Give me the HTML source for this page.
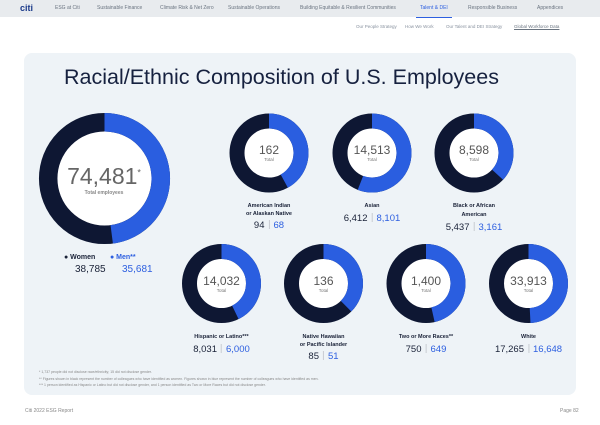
<!DOCTYPE html>
<html><head><style>
body{margin:0;width:600px;height:425px;background:#fff;font-family:"Liberation Sans",sans-serif;position:relative;overflow:hidden}
.a{position:absolute;white-space:nowrap}
.nav{position:absolute;left:0;top:0;width:600px;height:17px;background:#e8ebee}
.nav span{position:absolute;top:5px;font-size:5px;color:#6a7480}
.c{text-align:center;transform:translateX(-50%)}
.lab{font-size:5.5px;font-weight:bold;color:#1a2238;line-height:8px}
.num{font-size:9.5px;color:#1a2238}
.num b{font-weight:normal;color:#2d5fe0}
.sep{display:inline-block;width:1px;height:9px;background:#c8ccd2;margin:0 4px;vertical-align:-1px}
.t1{font-size:12px;color:#555}
.t2{font-size:4.5px;color:#777}
</style></head><body>
<div class="nav">
<span style="left:20px;top:3px;font-size:9px;font-weight:bold;color:#1a3a8a">citi</span>
<span style="left:55px">ESG at Citi</span><span style="left:97px">Sustainable Finance</span>
<span style="left:160px">Climate Risk &amp; Net Zero</span><span style="left:228px">Sustainable Operations</span>
<span style="left:300px">Building Equitable &amp; Resilient Communities</span>
<span style="left:420px;color:#2d5fe0">Talent &amp; DEI</span>
<span style="left:468px">Responsible Business</span><span style="left:537px">Appendices</span>
</div>
<div style="position:absolute;left:416px;top:17px;width:36px;height:1px;background:#2d5fe0"></div>
<div class="a" style="left:356px;top:24px;font-size:4.5px;color:#8a93a0">Our People Strategy</div>
<div class="a" style="left:405px;top:24px;font-size:4.5px;color:#8a93a0">How We Work</div>
<div class="a" style="left:446px;top:24px;font-size:4.5px;color:#8a93a0">Our Talent and DEI Strategy</div>
<div class="a" style="left:514px;top:24px;font-size:4.5px;color:#6a7480;text-decoration:underline">Global Workforce Data</div>
<div style="position:absolute;left:24px;top:53px;width:552px;height:342px;background:#eef3f7;border-radius:8px"></div>
<div class="a" style="left:64px;top:65px;font-size:21.5px;color:#16213f">Racial/Ethnic Composition of U.S. Employees</div>
<svg style="position:absolute;left:0;top:0" width="600" height="425">
<circle cx="104.5" cy="178.5" r="48" fill="#fff"/>
<circle cx="104.5" cy="178.5" r="56.3" fill="none" stroke="#0e1733" stroke-width="18.5"/>
<circle cx="104.5" cy="178.5" r="56.3" fill="none" stroke="#2a5ee0" stroke-width="18.5" stroke-dasharray="169.4 400" transform="rotate(-90 104.5 178.5)"/>
<g id="s"></g>
</svg>
<script>
var d=[[269,153,.42],[372,153,.558],[474,153,.368],[221.5,283.5,.428],[323.5,283.5,.375],[426,283.5,.464],[528.5,283.5,.491]];
var g=document.getElementById('s'),h='';
d.forEach(function(p){var r=32,C=2*Math.PI*r;
h+='<circle cx="'+p[0]+'" cy="'+p[1]+'" r="25" fill="#fff"/>';
h+='<circle cx="'+p[0]+'" cy="'+p[1]+'" r="'+r+'" fill="none" stroke="#0e1733" stroke-width="15"/>';
h+='<circle cx="'+p[0]+'" cy="'+p[1]+'" r="'+r+'" fill="none" stroke="#2a5ee0" stroke-width="15" stroke-dasharray="'+(C*p[2])+' 400" transform="rotate(-90 '+p[0]+' '+p[1]+')"/>';});
g.innerHTML=h;
</script>
<div class="a c" style="left:104px;top:163px;font-size:23px;color:#666">74,481<sup style="font-size:9px">*</sup></div>
<div class="a c" style="left:104px;top:190px;font-size:5px;font-weight:bold;color:#888">Total employees</div>
<div class="a" style="left:64px;top:254px;font-size:7px;font-weight:bold;color:#1a2238">● Women</div>
<div class="a" style="left:110px;top:254px;font-size:7px;font-weight:bold;color:#2d5fe0">● Men**</div>
<div class="a" style="left:75px;top:264px;font-size:10px;color:#1a2238">38,785</div>
<div class="a" style="left:122px;top:264px;font-size:10px;color:#2d5fe0">35,681</div>
<div class="a c t1" style="left:269px;top:143px">162</div><div class="a c t2" style="left:269px;top:157px">Total</div>
<div class="a c t1" style="left:372px;top:143px">14,513</div><div class="a c t2" style="left:372px;top:157px">Total</div>
<div class="a c t1" style="left:474px;top:143px">8,598</div><div class="a c t2" style="left:474px;top:157px">Total</div>
<div class="a c t1" style="left:221.5px;top:274px">14,032</div><div class="a c t2" style="left:221.5px;top:288px">Total</div>
<div class="a c t1" style="left:323.5px;top:274px">136</div><div class="a c t2" style="left:323.5px;top:288px">Total</div>
<div class="a c t1" style="left:426px;top:274px">1,400</div><div class="a c t2" style="left:426px;top:288px">Total</div>
<div class="a c t1" style="left:528.5px;top:274px">33,913</div><div class="a c t2" style="left:528.5px;top:288px">Total</div>
<div class="a c lab" style="left:269px;top:202px">American Indian<br>or Alaskan Native</div>
<div class="a c num" style="left:269px;top:220px">94<span class="sep"></span><b>68</b></div>
<div class="a c lab" style="left:372px;top:202px">Asian</div>
<div class="a c num" style="left:372px;top:213px">6,412<span class="sep"></span><b>8,101</b></div>
<div class="a c lab" style="left:474px;top:202px;line-height:9px">Black or African<br>American</div>
<div class="a c num" style="left:474px;top:222px">5,437<span class="sep"></span><b>3,161</b></div>
<div class="a c lab" style="left:221.5px;top:333px">Hispanic or Latino***</div>
<div class="a c num" style="left:221.5px;top:344px">8,031<span class="sep"></span><b>6,000</b></div>
<div class="a c lab" style="left:323.5px;top:333px">Native Hawaiian<br>or Pacific Islander</div>
<div class="a c num" style="left:323.5px;top:351px">85<span class="sep"></span><b>51</b></div>
<div class="a c lab" style="left:426px;top:333px">Two or More Races**</div>
<div class="a c num" style="left:426px;top:344px">750<span class="sep"></span><b>649</b></div>
<div class="a c lab" style="left:528.5px;top:333px">White</div>
<div class="a c num" style="left:528.5px;top:344px">17,265<span class="sep"></span><b>16,648</b></div>
<div class="a" style="left:39px;top:369px;font-size:3.5px;color:#888;line-height:6.5px">* 1,737 people did not disclose race/ethnicity; 15 did not disclose gender.<br>** Figures shown in black represent the number of colleagues who have identified as women. Figures shown in blue represent the number of colleagues who have identified as men.<br>*** 1 person identified as Hispanic or Latino but did not disclose gender, and 1 person identified as Two or More Races but did not disclose gender.</div>
<div class="a" style="left:25px;top:408px;font-size:5px;color:#888">Citi 2022 ESG Report</div>
<div class="a" style="left:560px;top:408px;font-size:5px;color:#888">Page 82</div>
</body></html>
